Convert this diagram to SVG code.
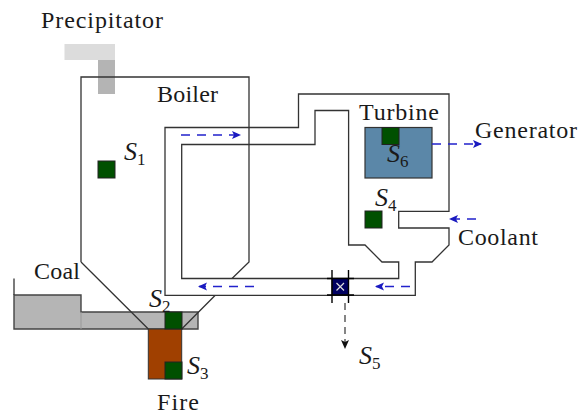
<svg xmlns="http://www.w3.org/2000/svg" width="578" height="415" viewBox="0 0 578 415">
<style>
.l{fill:none;stroke:#333;stroke-width:1.3;stroke-linejoin:miter}
.s{fill:#005000;stroke:#222;stroke-width:1}
.t{font-family:"Liberation Serif",serif;font-size:24px;fill:#1a1a1a}
.m{font-family:"Liberation Serif",serif;font-size:26px;font-style:italic;fill:#1a1a1a}
.b{font-size:17px;font-style:normal}
.f{fill:none;stroke:#2222cc;stroke-width:1.5;stroke-dasharray:9 7}
.k{fill:none;stroke:#444;stroke-width:1.3;stroke-dasharray:7 5}
</style>
<defs>
<marker id="ab" markerWidth="10" markerHeight="10" refX="8" refY="4" orient="auto" markerUnits="userSpaceOnUse"><path d="M0,0 L9,4 L0,8 L2,4 Z" fill="#1a1ac0"/></marker>
<marker id="ak" markerWidth="10" markerHeight="10" refX="8" refY="4" orient="auto" markerUnits="userSpaceOnUse"><path d="M0,0 L9,4 L0,8 L2,4 Z" fill="#111"/></marker>
</defs>
<g id="precipitator">
<rect x="64.500" y="44" width="50.500" height="16" fill="#dcdcdc"/>
<rect x="98" y="60" width="17" height="34" fill="#b4b4b4"/>
<text class="t" x="41" y="28" textLength="122" lengthAdjust="spacing">Precipitator</text>
</g>
<g id="coal">
<path d="M14,295 H81 V312 H198 V329 H14 Z" fill="#b5b5b5" stroke="#444" stroke-width="1.4"/>
<path d="M14,295 V278.500" class="l"/>
<path d="M81,312 V329" stroke="#999" stroke-width="1" fill="none"/>
<text class="t" x="34" y="279" textLength="46" lengthAdjust="spacing">Coal</text>
</g>
<g id="fire">
<rect x="148.300" y="329" width="33.400" height="50" fill="#a04000" stroke="#333" stroke-width="1"/>
<text class="t" x="157" y="409.500" textLength="42" lengthAdjust="spacing">Fire</text>
</g>
<g id="boiler">
<path class="l" d="M81,262 V77 H249 V262 L232,278.500 M81,262 L148.300,329 M181.700,329 L215,295.500"/>
<text class="t" x="157" y="102" textLength="61" lengthAdjust="spacing">Boiler</text>
</g>
<g id="turbine">
<rect x="365" y="127.500" width="67" height="50.500" fill="#5b87a8" stroke="#333" stroke-width="1.2"/>
<text class="t" x="359" y="120" textLength="80" lengthAdjust="spacing">Turbine</text>
</g>
<g id="connectors">
<path class="l" d="M165,295.300 V127.500 H298.500 V94 H449 V211.300 H398.700 V228 H449 V245 L432,262 H415.300 V295.300 H165 Z"/>
<path class="l" d="M181.700,144.500 V278.500 H398.700 V262 H382 L365,245 H348.600 V110.500 H315 V144.500 Z"/>
<path class="f" d="M181,135 H240" marker-end="url(#ab)"/>
<path class="f" d="M254,286.500 H199" marker-end="url(#ab)"/>
<path class="f" d="M410,286.500 H376" marker-end="url(#ab)"/>
<path class="f" d="M432,144 H481" marker-end="url(#ab)"/>
<path class="f" d="M476,219 H450" marker-end="url(#ab)"/>
<path class="k" d="M345,303 V348" marker-end="url(#ak)"/>
</g>
<g id="s1"><rect class="s" x="98" y="161" width="17" height="17"/><text class="m" x="124" y="160">S<tspan class="b" dy="5">1</tspan></text></g>
<g id="s2"><rect class="s" x="165" y="312" width="17" height="17"/><text class="m" x="149" y="307">S<tspan class="b" dy="5">2</tspan></text></g>
<g id="s3"><rect class="s" x="165" y="362" width="17" height="17"/><text class="m" x="187" y="374">S<tspan class="b" dy="5">3</tspan></text></g>
<g id="s4"><rect class="s" x="365" y="211" width="17" height="17"/><text class="m" x="375" y="206">S<tspan class="b" dy="5">4</tspan></text></g>
<g id="s5"><rect x="332" y="278.500" width="16.500" height="16.500" fill="#000060" stroke="#111" stroke-width="1"/><path d="M332,270 V303 M348.500,270 V303 M327,278.500 H354 M327,295 H354" fill="none" stroke="#000" stroke-width="1.4"/><path d="M336.500,283 L344,290.500 M344,283 L336.500,290.500" stroke="#ddd" stroke-width="1.2"/><text class="m" x="359" y="364">S<tspan class="b" dy="5">5</tspan></text></g>
<g id="s6"><rect class="s" x="382" y="127.500" width="17" height="17"/><text class="m" x="387" y="162">S<tspan class="b" dy="5">6</tspan></text></g>
<text class="t" x="475" y="138" textLength="102" lengthAdjust="spacing">Generator</text>
<text class="t" x="458" y="245" textLength="80" lengthAdjust="spacing">Coolant</text>
</svg>
